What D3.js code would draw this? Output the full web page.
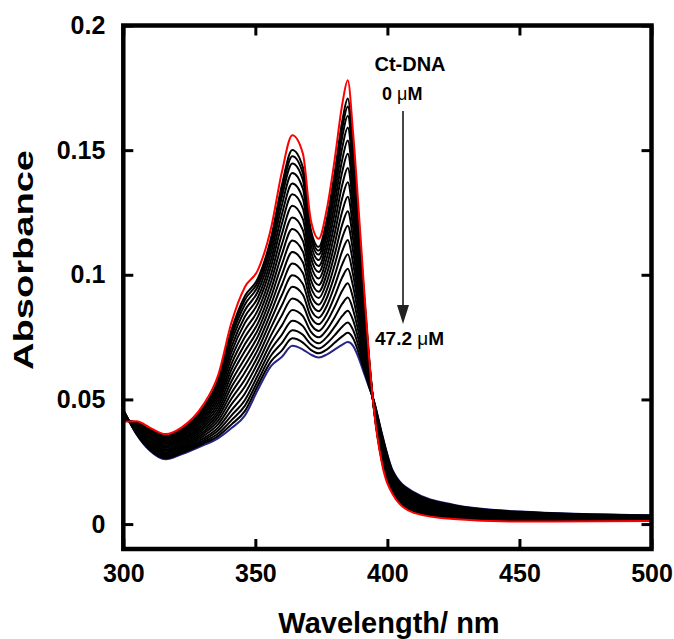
<!DOCTYPE html>
<html>
<head>
<meta charset="utf-8">
<script src="https://cdn.jsdelivr.net/npm/d3@7"></script>
<style>
  body { margin: 0; background: #fff; }
  svg { display: block; }
  text { font-family: "Liberation Sans", Arial, sans-serif; font-weight: bold; fill: #000; }
</style>
</head>
<body>
<svg width="674" height="639"></svg>
<script>
const width = 674, height = 639;
const svg = d3.select("svg");

const wavelengths = [300, 305, 310, 316, 322, 330, 336, 341, 346, 351, 356, 360, 364, 368, 371,
  374, 377, 380, 383, 385, 387, 389, 391, 393, 395, 398, 402, 410, 425, 450, 500];

// absorbance spectra, first = 0 uM ct-DNA (red), last = 47.2 uM
const spectra = [
  [.0410, .0412, .0387, .0361, .0387, .0474, .0600, .0810, .0950, .1020, .1190, .1410, .1560, .1486, .1220, .1145, .1260, .1460, .1690, .1780, .1570, .1280, .0970, .0680, .0450, .0240, .0120, .0045, .0020, .0010, .0012],
  [.0414, .0408, .0381, .0354, .0380, .0463, .0582, .0780, .0914, .0986, .1151, .1358, .1501, .1431, .1182, .1112, .1219, .1407, .1622, .1707, .1510, .1237, .0945, .0671, .0453, .0248, .0127, .0051, .0024, .0013, .0014],
  [.0415, .0407, .0378, .0351, .0376, .0458, .0575, .0768, .0899, .0972, .1135, .1336, .1476, .1407, .1166, .1097, .1202, .1384, .1593, .1675, .1485, .1219, .0934, .0667, .0454, .0252, .0130, .0053, .0026, .0014, .0014],
  [.0417, .0405, .0375, .0347, .0373, .0453, .0566, .0753, .0880, .0955, .1115, .1310, .1446, .1380, .1147, .1081, .1182, .1357, .1559, .1638, .1455, .1198, .0921, .0662, .0455, .0256, .0133, .0056, .0028, .0015, .0015],
  [.0419, .0403, .0370, .0343, .0368, .0445, .0554, .0734, .0857, .0934, .1090, .1277, .1408, .1345, .1123, .1059, .1156, .1323, .1515, .1591, .1416, .1170, .0905, .0657, .0457, .0262, .0137, .0060, .0030, .0017, .0016],
  [.0422, .0400, .0366, .0338, .0362, .0437, .0541, .0712, .0832, .0910, .1062, .1240, .1366, .1305, .1096, .1035, .1127, .1285, .1467, .1539, .1373, .1140, .0887, .0650, .0459, .0268, .0142, .0064, .0033, .0019, .0017],
  [.0424, .0397, .0361, .0333, .0357, .0430, .0529, .0691, .0806, .0886, .1035, .1203, .1323, .1266, .1069, .1011, .1098, .1247, .1418, .1486, .1331, .1109, .0869, .0644, .0461, .0274, .0147, .0068, .0036, .0021, .0018],
  [.0427, .0395, .0356, .0327, .0351, .0421, .0515, .0668, .0777, .0859, .1004, .1162, .1277, .1223, .1039, .0985, .1066, .1205, .1365, .1428, .1284, .1076, .0849, .0636, .0463, .0280, .0152, .0073, .0039, .0023, .0020],
  [.0430, .0392, .0351, .0322, .0345, .0412, .0501, .0644, .0749, .0833, .0974, .1121, .1230, .1179, .1009, .0959, .1034, .1164, .1312, .1371, .1237, .1042, .0830, .0629, .0466, .0287, .0157, .0077, .0043, .0026, .0021],
  [.0432, .0389, .0346, .0316, .0339, .0403, .0487, .0621, .0721, .0806, .0943, .1081, .1184, .1136, .0980, .0932, .1002, .1122, .1258, .1313, .1190, .1009, .0810, .0622, .0468, .0293, .0162, .0082, .0046, .0028, .0022],
  [.0435, .0386, .0341, .0311, .0334, .0395, .0473, .0598, .0693, .0780, .0913, .1040, .1138, .1093, .0950, .0907, .0970, .1080, .1205, .1255, .1143, .0975, .0790, .0615, .0470, .0300, .0168, .0087, .0049, .0030, .0024],
  [.0438, .0383, .0336, .0305, .0328, .0386, .0458, .0574, .0664, .0754, .0882, .0999, .1091, .1050, .0920, .0880, .0938, .1038, .1152, .1197, .1095, .0941, .0770, .0608, .0472, .0307, .0173, .0091, .0052, .0032, .0025],
  [.0441, .0380, .0331, .0299, .0322, .0377, .0444, .0551, .0636, .0727, .0851, .0959, .1045, .1007, .0891, .0854, .0906, .0996, .1098, .1140, .1048, .0908, .0750, .0601, .0474, .0313, .0178, .0096, .0055, .0034, .0026],
  [.0443, .0377, .0326, .0294, .0316, .0368, .0430, .0527, .0608, .0701, .0821, .0918, .0998, .0963, .0861, .0828, .0874, .0955, .1045, .1082, .1001, .0874, .0731, .0594, .0477, .0320, .0183, .0100, .0059, .0037, .0027],
  [.0446, .0375, .0321, .0288, .0310, .0360, .0416, .0504, .0579, .0674, .0790, .0877, .0952, .0920, .0831, .0802, .0842, .0913, .0992, .1024, .0954, .0841, .0711, .0586, .0479, .0326, .0188, .0105, .0062, .0039, .0029],
  [.0449, .0372, .0316, .0283, .0304, .0351, .0402, .0481, .0551, .0648, .0759, .0837, .0905, .0877, .0802, .0775, .0811, .0871, .0938, .0966, .0907, .0807, .0691, .0579, .0481, .0333, .0194, .0109, .0065, .0041, .0030],
  [.0452, .0369, .0311, .0277, .0298, .0342, .0388, .0457, .0523, .0622, .0729, .0796, .0859, .0834, .0772, .0749, .0779, .0829, .0885, .0909, .0860, .0774, .0671, .0572, .0483, .0340, .0199, .0114, .0068, .0043, .0031],
  [.0454, .0366, .0306, .0272, .0293, .0334, .0376, .0436, .0497, .0598, .0702, .0759, .0816, .0794, .0745, .0725, .0750, .0791, .0836, .0856, .0818, .0743, .0653, .0566, .0485, .0346, .0204, .0118, .0071, .0045, .0032],
  [.0456, .0364, .0302, .0268, .0288, .0327, .0364, .0417, .0474, .0576, .0677, .0726, .0778, .0759, .0721, .0704, .0724, .0757, .0793, .0809, .0779, .0716, .0637, .0560, .0487, .0351, .0208, .0122, .0074, .0047, .0033],
  [.0458, .0362, .0298, .0264, .0284, .0321, .0354, .0400, .0453, .0557, .0654, .0696, .0745, .0728, .0699, .0685, .0700, .0727, .0754, .0767, .0745, .0691, .0623, .0555, .0489, .0356, .0212, .0125, .0076, .0049, .0034],
  [.0460, .0360, .0295, .0260, .0280, .0315, .0345, .0385, .0435, .0540, .0635, .0670, .0715, .0700, .0680, .0668, .0680, .0700, .0720, .0730, .0715, .0670, .0610, .0550, .0490, .0360, .0215, .0128, .0078, .0050, .0035]
];

const xTicks = [300, 350, 400, 450, 500];
const yTicks = [0, 0.05, 0.1, 0.15, 0.2];
const yTickLabels = ["0", "0.05", "0.1", "0.15", "0.2"];
const concLabels = ["0", "47.2"];

// plot frame
const plotLeft = 123.3, plotRight = 651.5, plotTop = 25.5, plotBottom = 549;

const x = d3.scaleLinear().domain([300, 500]).range([plotLeft, plotRight]);
const y = d3.scaleLinear().domain([-0.01, 0.2]).range([plotBottom, plotTop]);

svg.append("rect").attr("width", width).attr("height", height).attr("fill", "#fff");

svg.append("clipPath").attr("id", "plot-clip")
  .append("rect")
  .attr("x", plotLeft).attr("y", plotTop)
  .attr("width", plotRight - plotLeft).attr("height", plotBottom - plotTop);

const line = d3.line()
  .x((d, i) => x(wavelengths[i]))
  .y(d => y(d))
  .curve(d3.curveMonotoneX);

const curves = svg.append("g").attr("clip-path", "url(#plot-clip)");

// navy last spectrum underneath, black titration curves, red 0 uM on top
const last = spectra.length - 1;
const order = [last].concat(d3.range(last - 1, 0, -1), [0]);
curves.selectAll("path")
  .data(order)
  .enter().append("path")
  .attr("d", i => line(spectra[i]))
  .attr("fill", "none")
  .attr("stroke", i => i === 0 ? "#ff0000" : (i === last ? "#26268a" : "#000"))
  .attr("stroke-width", 2)
  .attr("stroke-linejoin", "round");

// axes, ticks pointing inward
function styleAxis(g) {
  g.select(".domain").remove();
  g.selectAll(".tick line").attr("stroke", "#000").attr("stroke-width", 3);
  g.selectAll(".tick text")
    .style("font-family", "'Liberation Sans', Arial, sans-serif")
    .style("font-weight", "bold")
    .style("font-size", "25px")
    .attr("fill", "#000");
}

svg.append("g")
  .attr("transform", `translate(0,${plotBottom})`)
  .call(d3.axisBottom(x).tickValues(xTicks).tickFormat(d3.format("d")).tickSize(-10).tickPadding(15))
  .call(styleAxis);

svg.append("g")
  .attr("transform", `translate(0,${plotTop})`)
  .call(d3.axisTop(x).tickValues(xTicks).tickFormat("").tickSize(-10))
  .call(styleAxis);

svg.append("g")
  .attr("transform", `translate(${plotLeft},0)`)
  .call(d3.axisLeft(y).tickValues(yTicks).tickFormat((d, i) => yTickLabels[i]).tickSize(-10).tickPadding(18))
  .call(styleAxis);

svg.append("g")
  .attr("transform", `translate(${plotRight},0)`)
  .call(d3.axisRight(y).tickValues(yTicks).tickFormat("").tickSize(-10))
  .call(styleAxis);

svg.append("rect")
  .attr("x", plotLeft).attr("y", plotTop)
  .attr("width", plotRight - plotLeft).attr("height", plotBottom - plotTop)
  .attr("fill", "none")
  .attr("stroke", "#000")
  .attr("stroke-width", 4.5);

// axis titles
svg.append("text")
  .attr("x", 389)
  .attr("y", 633)
  .attr("text-anchor", "middle")
  .style("font-size", "29px")
  .text("Wavelength/ nm");

svg.append("text")
  .attr("transform", "translate(33,260) rotate(-90)")
  .attr("text-anchor", "middle")
  .attr("textLength", 220)
  .attr("lengthAdjust", "spacingAndGlyphs")
  .style("font-size", "28px")
  .text("Absorbance");

// annotation
svg.append("text")
  .attr("x", 410).attr("y", 71)
  .attr("text-anchor", "middle")
  .style("font-size", "20px")
  .text("Ct-DNA");

const lab0 = svg.append("text")
  .attr("x", 382).attr("y", 100)
  .style("font-size", "18px");
lab0.append("tspan").text(concLabels[0] + " ");
lab0.append("tspan").style("font-weight", "normal").text("μ");
lab0.append("tspan").text("M");

const lab1 = svg.append("text")
  .attr("x", 375).attr("y", 345)
  .style("font-size", "19px");
lab1.append("tspan").text(concLabels[1] + " ");
lab1.append("tspan").style("font-weight", "normal").text("μ");
lab1.append("tspan").text("M");

svg.append("line")
  .attr("x1", 403).attr("y1", 111)
  .attr("x2", 403).attr("y2", 308)
  .attr("stroke", "#333")
  .attr("stroke-width", 1.8);

svg.append("path")
  .attr("d", "M397,305 L409,305 L403,324 Z")
  .attr("fill", "#222");
</script>
</body>
</html>
